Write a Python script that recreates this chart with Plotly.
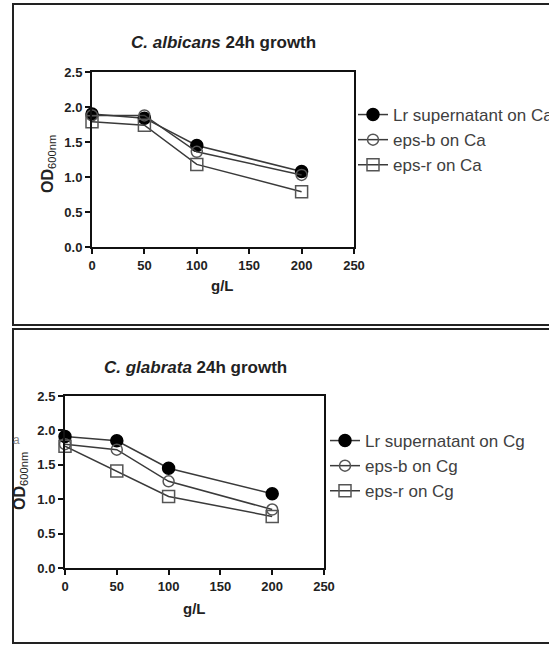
import plotly.graph_objects as go

W, H = 549, 645

conc = [0, 50, 100, 200]

# C. albicans
ca_lr = [1.90, 1.84, 1.45, 1.08]
ca_epsb = [1.88, 1.88, 1.36, 1.03]
ca_epsr = [1.79, 1.74, 1.18, 0.79]

# C. glabrata
cg_lr = [1.91, 1.85, 1.45, 1.08]
cg_epsb = [1.80, 1.72, 1.26, 0.85]
cg_epsr = [1.77, 1.41, 1.04, 0.75]

names_ca = ["Lr supernatant on Ca", "eps-b on Ca", "eps-r on Ca"]
names_cg = ["Lr supernatant on Cg", "eps-b on Cg", "eps-r on Cg"]

x_ticks = [0, 50, 100, 150, 200, 250]
y_ticks = [0.0, 0.5, 1.0, 1.5, 2.0, 2.5]

FONT = "Liberation Sans, Arial, sans-serif"
LINE = "#3a3a3a"

def px(x):
    return x / W

def py(y):
    return 1 - y / H

styles = [
    dict(symbol="circle", size=12, color="black", line=dict(color="black", width=1.5)),
    dict(symbol="circle-open", size=11, color="#555555", line=dict(width=1.5)),
    dict(symbol="square-open", size=12, color="#555555", line=dict(width=1.5)),
]

fig = go.Figure()

for vals, nm, st in zip([ca_lr, ca_epsb, ca_epsr], names_ca, styles):
    fig.add_trace(go.Scatter(x=conc, y=vals, name=nm, mode="lines+markers",
                             line=dict(color=LINE, width=1.5), marker=st,
                             cliponaxis=False, xaxis="x", yaxis="y", legend="legend"))
for vals, nm, st in zip([cg_lr, cg_epsb, cg_epsr], names_cg, styles):
    fig.add_trace(go.Scatter(x=conc, y=vals, name=nm, mode="lines+markers",
                             line=dict(color=LINE, width=1.5), marker=st,
                             cliponaxis=False, xaxis="x2", yaxis="y2", legend="legend2"))

axis_common = dict(showline=True, linewidth=2, linecolor="#111111", mirror=True,
                   ticks="outside", ticklen=5, tickwidth=2, tickcolor="#111111",
                   showgrid=False, zeroline=False,
                   tickfont=dict(family=FONT, size=13, color="#222222", weight="bold"))

LEG_FONT = dict(family=FONT, size=17, color="#404040")

fig.update_layout(
    width=W, height=H,
    margin=dict(l=0, r=0, t=0, b=0, autoexpand=False),
    paper_bgcolor="white", plot_bgcolor="white",
    font=dict(family=FONT),
    xaxis=dict(domain=[px(92), px(354)], range=[0, 250], tickvals=x_ticks, anchor="y", **axis_common),
    yaxis=dict(domain=[py(247), py(72)], range=[0, 2.5], tickvals=y_ticks, tickformat=".1f", anchor="x", **axis_common),
    xaxis2=dict(domain=[px(65), px(324)], range=[0, 250], tickvals=x_ticks, anchor="y2", **axis_common),
    yaxis2=dict(domain=[py(568), py(396)], range=[0, 2.5], tickvals=y_ticks, tickformat=".1f", anchor="x2", **axis_common),
    legend=dict(x=px(353), y=py(97), xanchor="left", yanchor="top", font=LEG_FONT,
                bgcolor="rgba(0,0,0,0)", tracegroupgap=0, itemwidth=30),
    legend2=dict(x=px(325), y=py(423), xanchor="left", yanchor="top", font=LEG_FONT,
                 bgcolor="rgba(0,0,0,0)", tracegroupgap=0, itemwidth=30),
    showlegend=True,
)

shapes = [
    dict(type="rect", xref="paper", yref="paper", x0=px(13), x1=px(570), y0=py(325), y1=py(4),
         line=dict(color="#222222", width=2)),
    dict(type="rect", xref="paper", yref="paper", x0=px(13), x1=px(570), y0=py(643), y1=py(329),
         line=dict(color="#222222", width=2)),
]
fig.update_layout(shapes=shapes)

ann = []
def text(x, y, t, size, bold=True, angle=0, color="#222222", xanchor="center"):
    ann.append(dict(x=px(x), y=py(y), xref="paper", yref="paper", text=t, showarrow=False,
                    textangle=angle, xanchor=xanchor, yanchor="middle",
                    font=dict(family=FONT, size=size, color=color, weight="bold" if bold else "normal")))

OD = "OD<sub><span style='font-weight:normal'>600nm</span></sub>"
text(223, 42, "<i>C. albicans</i> 24h growth", 17)
text(195, 367, "<i>C. glabrata</i> 24h growth", 17)
text(222, 285, "g/L", 15)
text(194, 608, "g/L", 15)
text(48, 164, OD, 16, angle=-90)
text(21, 481, OD, 16, angle=-90)
text(545, 182, "OD", 15, angle=-90, xanchor="left")
text(16, 440, "a", 12, bold=False, color="#888888")
fig.update_layout(annotations=ann)

fig.write_html(
    "out.html",
    config={"displayModeBar": False},
    post_script="document.body.style.margin='0';document.body.style.padding='0';"
                "document.documentElement.style.overflow='hidden';",
)
